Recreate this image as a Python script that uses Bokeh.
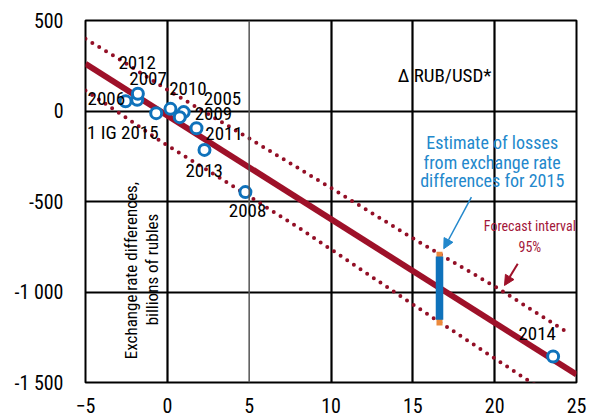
import math
from bokeh.plotting import figure
from bokeh.models import (Range1d, FixedTicker, Label, LabelSet, ColumnDataSource,
                          Arrow, NormalHead, Span)
from bokeh.core.properties import value
from bokeh.embed import file_html
from bokeh.resources import INLINE

FONT = "Roboto Condensed"

# ---------------- data ----------------
years = ["2005", "2006", "2007", "2008", "2009", "2010", "2011", "2012", "2013", "2014", "1 IG 2015"]
rub_change = [1.0, -2.55, -1.84, 4.77, 0.76, 0.19, 1.78, -1.80, 2.27, 23.57, -0.68]
fx_diff = [-6, 54, 62, -448, -34, 12, -95, 95, -215, -1356, -12]

reg_x = [-5, 25]
reg_y = [261, -1456]

upper_x = [-5, -2.97, -0.11, 4.88, 9.76, 15.16, 20.15, 24.52]
upper_y = [399, 288, 123, -145, -412, -712, -977, -1228]
lower_x = [-5, -2.56, -0.22, 3.14, 7.02, 8.13, 15.26, 21.98, 22.6]
lower_y = [113, -34, -178, -366, -587, -651, -1084, -1485, -1520]

est_x = [16.63]
est_low = [-1154]
est_high = [-804]
est_range_low = [-1185]
est_range_high = [-778]

xticks = [-5, 0, 5, 10, 15, 20, 25]
yticks = [-1500, -1000, -500, 0, 500]
ytick_labels = ["-1 500", "-1 000", "-500", "0", "500"]

# label placement (data units) for each year
year_label_x = [3.37, -3.73, -1.18, 4.9, 2.82, 1.26, 3.47, -1.84, 2.25, 22.6, -2.72]
year_label_y = [67, 67, 178, -550, -15, 123, -126, 270, -329, -1231, -117]

MAROON = "#9e1129"
DOT = "#930f26"
BLUE = "#0f72bb"
TBLUE = "#2388cc"
TMAROON = "#a3173a"
ORANGE = "#ec8a3c"

p = figure(width=589, height=420, output_backend="svg", toolbar_location=None,
           x_range=Range1d(-5, 25), y_range=Range1d(-1500, 500),
           min_border_left=85, min_border_right=13, min_border_top=20, min_border_bottom=38)
p.background_fill_color = "white"
p.border_fill_color = "white"
p.outline_line_color = "black"
p.outline_line_width = 2

for ax in (p.xaxis[0], p.yaxis[0]):
    ax.axis_line_color = None
    ax.major_tick_line_color = None
    ax.minor_tick_line_color = None
    ax.major_tick_out = 0
    ax.major_tick_in = 0
    ax.major_label_text_font = FONT
    ax.major_label_text_font_size = "20px"
    ax.major_label_text_color = "black"

p.xaxis.ticker = FixedTicker(ticks=xticks)
p.yaxis.ticker = FixedTicker(ticks=yticks)
p.yaxis.major_label_overrides = {t: l for t, l in zip(yticks, ytick_labels)}
p.xaxis.major_label_standoff = 15
p.yaxis.major_label_standoff = 22

p.xgrid.ticker = FixedTicker(ticks=[t for t in xticks if t != 5])
p.ygrid.ticker = FixedTicker(ticks=yticks)
for g in (p.xgrid[0], p.ygrid[0]):
    g.grid_line_color = "black"
    g.grid_line_alpha = 1.0
    g.grid_line_width = 2.2
p.add_layout(Span(location=5, dimension="height", line_color="#555555", line_width=1.5))

# forecast interval (dotted)
for xs, ys in ((upper_x, upper_y), (lower_x, lower_y)):
    p.line(xs, ys, line_color=DOT, line_width=4, line_dash="0 8", line_cap="round")

# regression line
p.line(reg_x, reg_y, line_color=MAROON, line_width=6)

# estimate of losses bar
p.vbar(x=est_x, bottom=est_range_low, top=est_range_high, width=0.37,
       fill_color=ORANGE, line_color=None)
p.vbar(x=est_x, bottom=est_low, top=est_high, width=0.46,
       fill_color=BLUE, line_color=None)

# points
src = ColumnDataSource(dict(x=rub_change, y=fx_diff, year=years,
                            lx=year_label_x, ly=year_label_y))
p.scatter("x", "y", source=src, size=11, fill_color="white", line_color=BLUE, line_width=3)

p.add_layout(LabelSet(x="lx", y="ly", text="year", source=src, text_font=value(FONT),
                      text_font_size=value("19px"), text_color="black",
                      text_align="center", text_baseline="middle"))

# texts
def lab(x, y, t, color, size, angle=0.0):
    p.add_layout(Label(x=x, y=y, text=t, text_font=FONT, text_font_size=size,
                       text_color=color, text_align="center", text_baseline="middle",
                       angle=angle))

lab(16.94, 196, "Δ RUB/USD*", "black", "19px")
lab(19.85, -172, "Estimate of losses", TBLUE, "18px")
lab(19.85, -283, "from exchange rate", TBLUE, "18px")
lab(19.85, -384, "differences for 2015", TBLUE, "18px")
lab(22.15, -633, "Forecast interval", TMAROON, "14px")
lab(22.15, -752, "95%", TMAROON, "14px")
lab(-2.25, -881, "Exchange rate differences,", "black", "17px", math.pi / 2)
lab(-0.92, -876, "billions of rubles", "black", "17px", math.pi / 2)

# arrows
p.add_layout(Arrow(end=NormalHead(size=10, fill_color=TBLUE, line_color=TBLUE),
                   x_start=18.58, y_start=-476, x_end=16.89, y_end=-761,
                   line_color=TBLUE, line_width=1.5))
p.add_layout(Arrow(end=NormalHead(size=10, fill_color=MAROON, line_color=MAROON),
                   x_start=21.41, y_start=-844, x_end=20.6, y_end=-964,
                   line_color=MAROON, line_width=2))

open("out.html", "w").write(file_html(p, INLINE))
